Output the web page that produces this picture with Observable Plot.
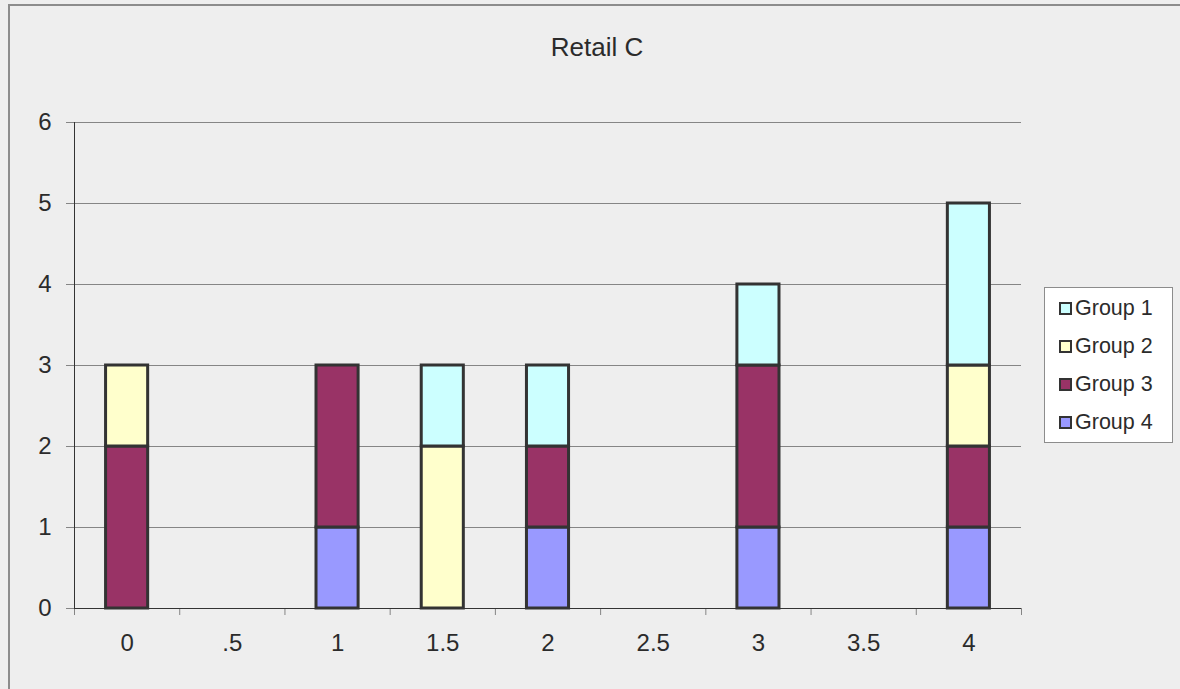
<!DOCTYPE html>
<html>
<head>
<meta charset="utf-8">
<script src="https://cdn.jsdelivr.net/npm/d3@7"></script>
<script src="https://cdn.jsdelivr.net/npm/@observablehq/plot@0.6"></script>
<style>
  html, body { margin: 0; padding: 0; background: #eeeeee; }
  #chart { position: relative; width: 1180px; height: 689px; overflow: hidden;
           font-family: "Liberation Sans", Arial, sans-serif; color: #2b2b2b; }
  #frame { position: absolute; left: 8px; top: 4px; width: 1200px; height: 720px;
           border-top: 2px solid #8c8c8c; border-left: 2px solid #8c8c8c; }
  #plot { position: absolute; left: 0; top: 0; }
  #title { position: absolute; top: 33px; left: 597px; transform: translateX(-50%);
           font-size: 26px; line-height: 28px; white-space: nowrap; }
  #legend { position: absolute; left: 1044px; top: 287px; width: 127px; height: 154px;
            background: #ffffff; border: 1px solid #8c8c8c; }
  .item { position: absolute; left: 14px; height: 24px; display: flex; align-items: center;
          font-size: 21.5px; white-space: nowrap; }
  .sw { width: 9px; height: 9px; border: 2.5px solid #333; margin-right: 3px; }
</style>
</head>
<body>
<div id="chart">
  <div id="frame"></div>
  <div id="plot"></div>
  <div id="title">Retail C</div>
  <div id="legend"></div>
</div>
<script>
// Categories along the x axis
const categories = ["0", ".5", "1", "1.5", "2", "2.5", "3", "3.5", "4"];
// Series names and their fill colours
const groups = ["Group 1", "Group 2", "Group 3", "Group 4"];
const groupColors = ["#ccffff", "#ffffcc", "#993366", "#9999ff"];
// Values per category for each series
const group1 = [0, 0, 0, 1, 1, 0, 1, 0, 2];
const group2 = [1, 0, 0, 2, 0, 0, 0, 0, 1];
const group3 = [2, 0, 2, 0, 1, 0, 2, 0, 1];
const group4 = [0, 0, 1, 0, 1, 0, 1, 0, 1];
// Y axis ticks
const yTicks = [0, 1, 2, 3, 4, 5, 6];

// Stack from the bottom up: Group 4, Group 3, Group 2, Group 1
const stackOrder = ["Group 4", "Group 3", "Group 2", "Group 1"];
const seriesValues = {"Group 1": group1, "Group 2": group2, "Group 3": group3, "Group 4": group4};

const rows = [];
categories.forEach((c, i) => {
  stackOrder.forEach(g => {
    const v = seriesValues[g][i];
    if (v > 0) rows.push({i, category: c, group: g, value: v});
  });
});

const inset = 0.3; // fraction of each category slot left empty on either side of a bar
const boundaries = d3.range(0, categories.length + 1);
const centers = categories.map((c, i) => i + 0.5);

const chart = Plot.plot({
  width: 1180,
  height: 689,
  marginLeft: 74,
  marginRight: 159,
  marginTop: 122,
  marginBottom: 81,
  style: {background: "transparent", fontFamily: "'Liberation Sans', Arial, sans-serif", color: "#2b2b2b", overflow: "visible"},
  x: {domain: [0, categories.length], axis: null, label: null},
  y: {domain: [0, 6], axis: null, label: null},
  color: {domain: groups, range: groupColors},
  marks: [
    Plot.gridY(yTicks.slice(1), {stroke: "#858585", strokeOpacity: 1}),
    Plot.axisY(yTicks, {tickSize: 8, tickPadding: 15, fontSize: 24, stroke: "#858585", fill: "#2b2b2b", label: null, tickFormat: d => String(d)}),
    Plot.axisX(boundaries, {tickSize: 7, stroke: "#858585", label: null, tickFormat: () => ""}),
    Plot.axisX(centers, {tickSize: 0, tickPadding: 25, fontSize: 24, fill: "#2b2b2b", label: null, tickFormat: d => categories[Math.round(d - 0.5)]}),
    Plot.ruleX([0], {stroke: "#333"}),
    Plot.ruleY([0], {stroke: "#333"}),
    Plot.rectY(rows, {
      x1: d => d.i + inset,
      x2: d => d.i + 1 - inset,
      y: "value",
      fill: "group",
      order: stackOrder,
      stroke: "#333",
      strokeWidth: 3
    })
  ]
});
document.getElementById("plot").appendChild(chart);

// Legend
const legend = document.getElementById("legend");
groups.forEach((g, k) => {
  const item = document.createElement("div");
  item.className = "item";
  item.style.top = (8 + k * 38) + "px";
  const sw = document.createElement("span");
  sw.className = "sw";
  sw.style.background = groupColors[k];
  const label = document.createElement("span");
  label.textContent = g;
  item.appendChild(sw);
  item.appendChild(label);
  legend.appendChild(item);
});
</script>
</body>
</html>
